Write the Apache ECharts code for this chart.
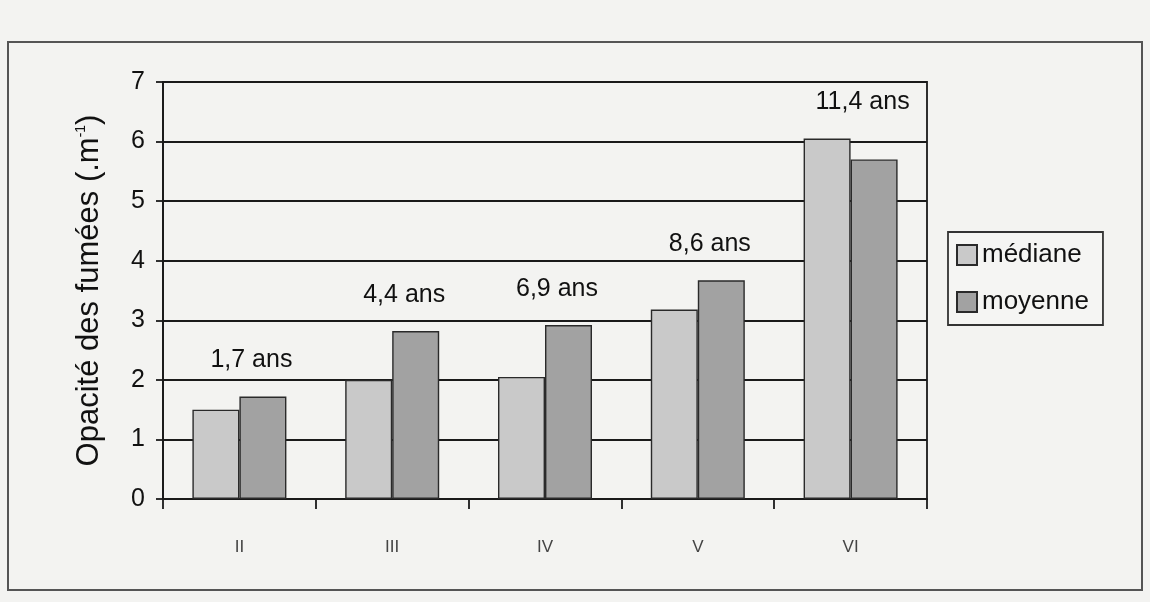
<!DOCTYPE html>
<html>
<head>
<meta charset="utf-8">
<script src="https://cdn.jsdelivr.net/npm/echarts@6/dist/echarts.min.js"></script>
<style>
  html, body { margin: 0; padding: 0; background: #f3f3f1; }
  #chart { width: 1150px; height: 602px; }
</style>
</head>
<body>
<div id="chart"></div>
<script>
// Smoke opacity by class: median and mean, with the mean age of each class
const categories = ['II', 'III', 'IV', 'V', 'VI'];
const mediane = [1.5, 2.0, 2.05, 3.18, 6.05];
const moyenne = [1.72, 2.82, 2.92, 3.67, 5.7];
const ages = ['1,7 ans', '4,4 ans', '6,9 ans', '8,6 ans', '11,4 ans'];
const yTicks = { min: 0, max: 7, interval: 1 };

const FONT = '"Liberation Sans", Arial, sans-serif';
const chart = echarts.init(document.getElementById('chart'));

chart.setOption({
  backgroundColor: '#f3f3f1',
  animation: false,
  textStyle: { fontFamily: FONT },
  graphic: [{
    type: 'rect',
    shape: { x: 8, y: 42, width: 1134, height: 548 },
    style: { fill: 'none', stroke: '#555', lineWidth: 2 },
    z: -1
  }],
  grid: {
    left: 163, right: 223, top: 82, bottom: 103,
    show: true, borderColor: '#1a1a1a', borderWidth: 1.8,
    backgroundColor: 'transparent'
  },
  legend: {
    data: ['médiane', 'moyenne'],
    orient: 'vertical',
    left: 948, top: 232,
    icon: 'rect',
    itemWidth: 20, itemHeight: 20, itemGap: 21,
    padding: [10, 14, 10, 8],
    borderColor: '#333', borderWidth: 1.8,
    backgroundColor: '#f5f5f3',
    textStyle: { fontSize: 26, lineHeight: 20, color: '#111', fontFamily: FONT }
  },
  xAxis: {
    type: 'category',
    data: categories,
    axisLine: { lineStyle: { color: '#1a1a1a', width: 1.8 } },
    axisTick: { show: true, length: 10, lineStyle: { color: '#1a1a1a', width: 1.8 } },
    axisLabel: { fontSize: 17, color: '#444', margin: 40, fontFamily: FONT }
  },
  yAxis: {
    type: 'value',
    min: yTicks.min, max: yTicks.max, interval: yTicks.interval,
    name: 'Opacité des fumées (.m{sup|-1})',
    nameLocation: 'middle', nameGap: 58, nameRotate: 90,
    nameTextStyle: {
      fontSize: 31, color: '#111', fontFamily: FONT,
      rich: { sup: { fontSize: 14, color: '#111', padding: [0, 0, 17, 0] } }
    },
    axisLine: { show: true, lineStyle: { color: '#1a1a1a', width: 1.8 } },
    axisTick: { show: true, length: 7, lineStyle: { color: '#1a1a1a', width: 1.8 } },
    axisLabel: { fontSize: 25, color: '#111', margin: 18, fontFamily: FONT },
    splitLine: { lineStyle: { color: '#1a1a1a', width: 1.8 } }
  },
  series: [
    {
      name: 'médiane', type: 'bar', data: mediane,
      barWidth: 47, barGap: '0%',
      itemStyle: { color: '#c9c9c9', borderColor: '#2a2a2a', borderWidth: 1.4 }
    },
    {
      name: 'moyenne', type: 'bar', data: moyenne,
      barWidth: 47, barGap: '0%',
      itemStyle: { color: '#a2a2a2', borderColor: '#2a2a2a', borderWidth: 1.4 }
    },
    {
      // age label above the taller bar of each class
      name: 'âge', type: 'custom',
      data: categories.map((c, i) => [i, Math.max(mediane[i], moyenne[i])]),
      renderItem: function (params, api) {
        const p = api.coord([api.value(0), api.value(1)]);
        return {
          type: 'text',
          x: p[0] + 12, y: p[1] - 36,
          style: {
            text: ages[params.dataIndex],
            fontSize: 25, fill: '#111', fontFamily: FONT,
            align: 'center', verticalAlign: 'middle'
          }
        };
      },
      z: 5
    }
  ]
});
</script>
</body>
</html>
